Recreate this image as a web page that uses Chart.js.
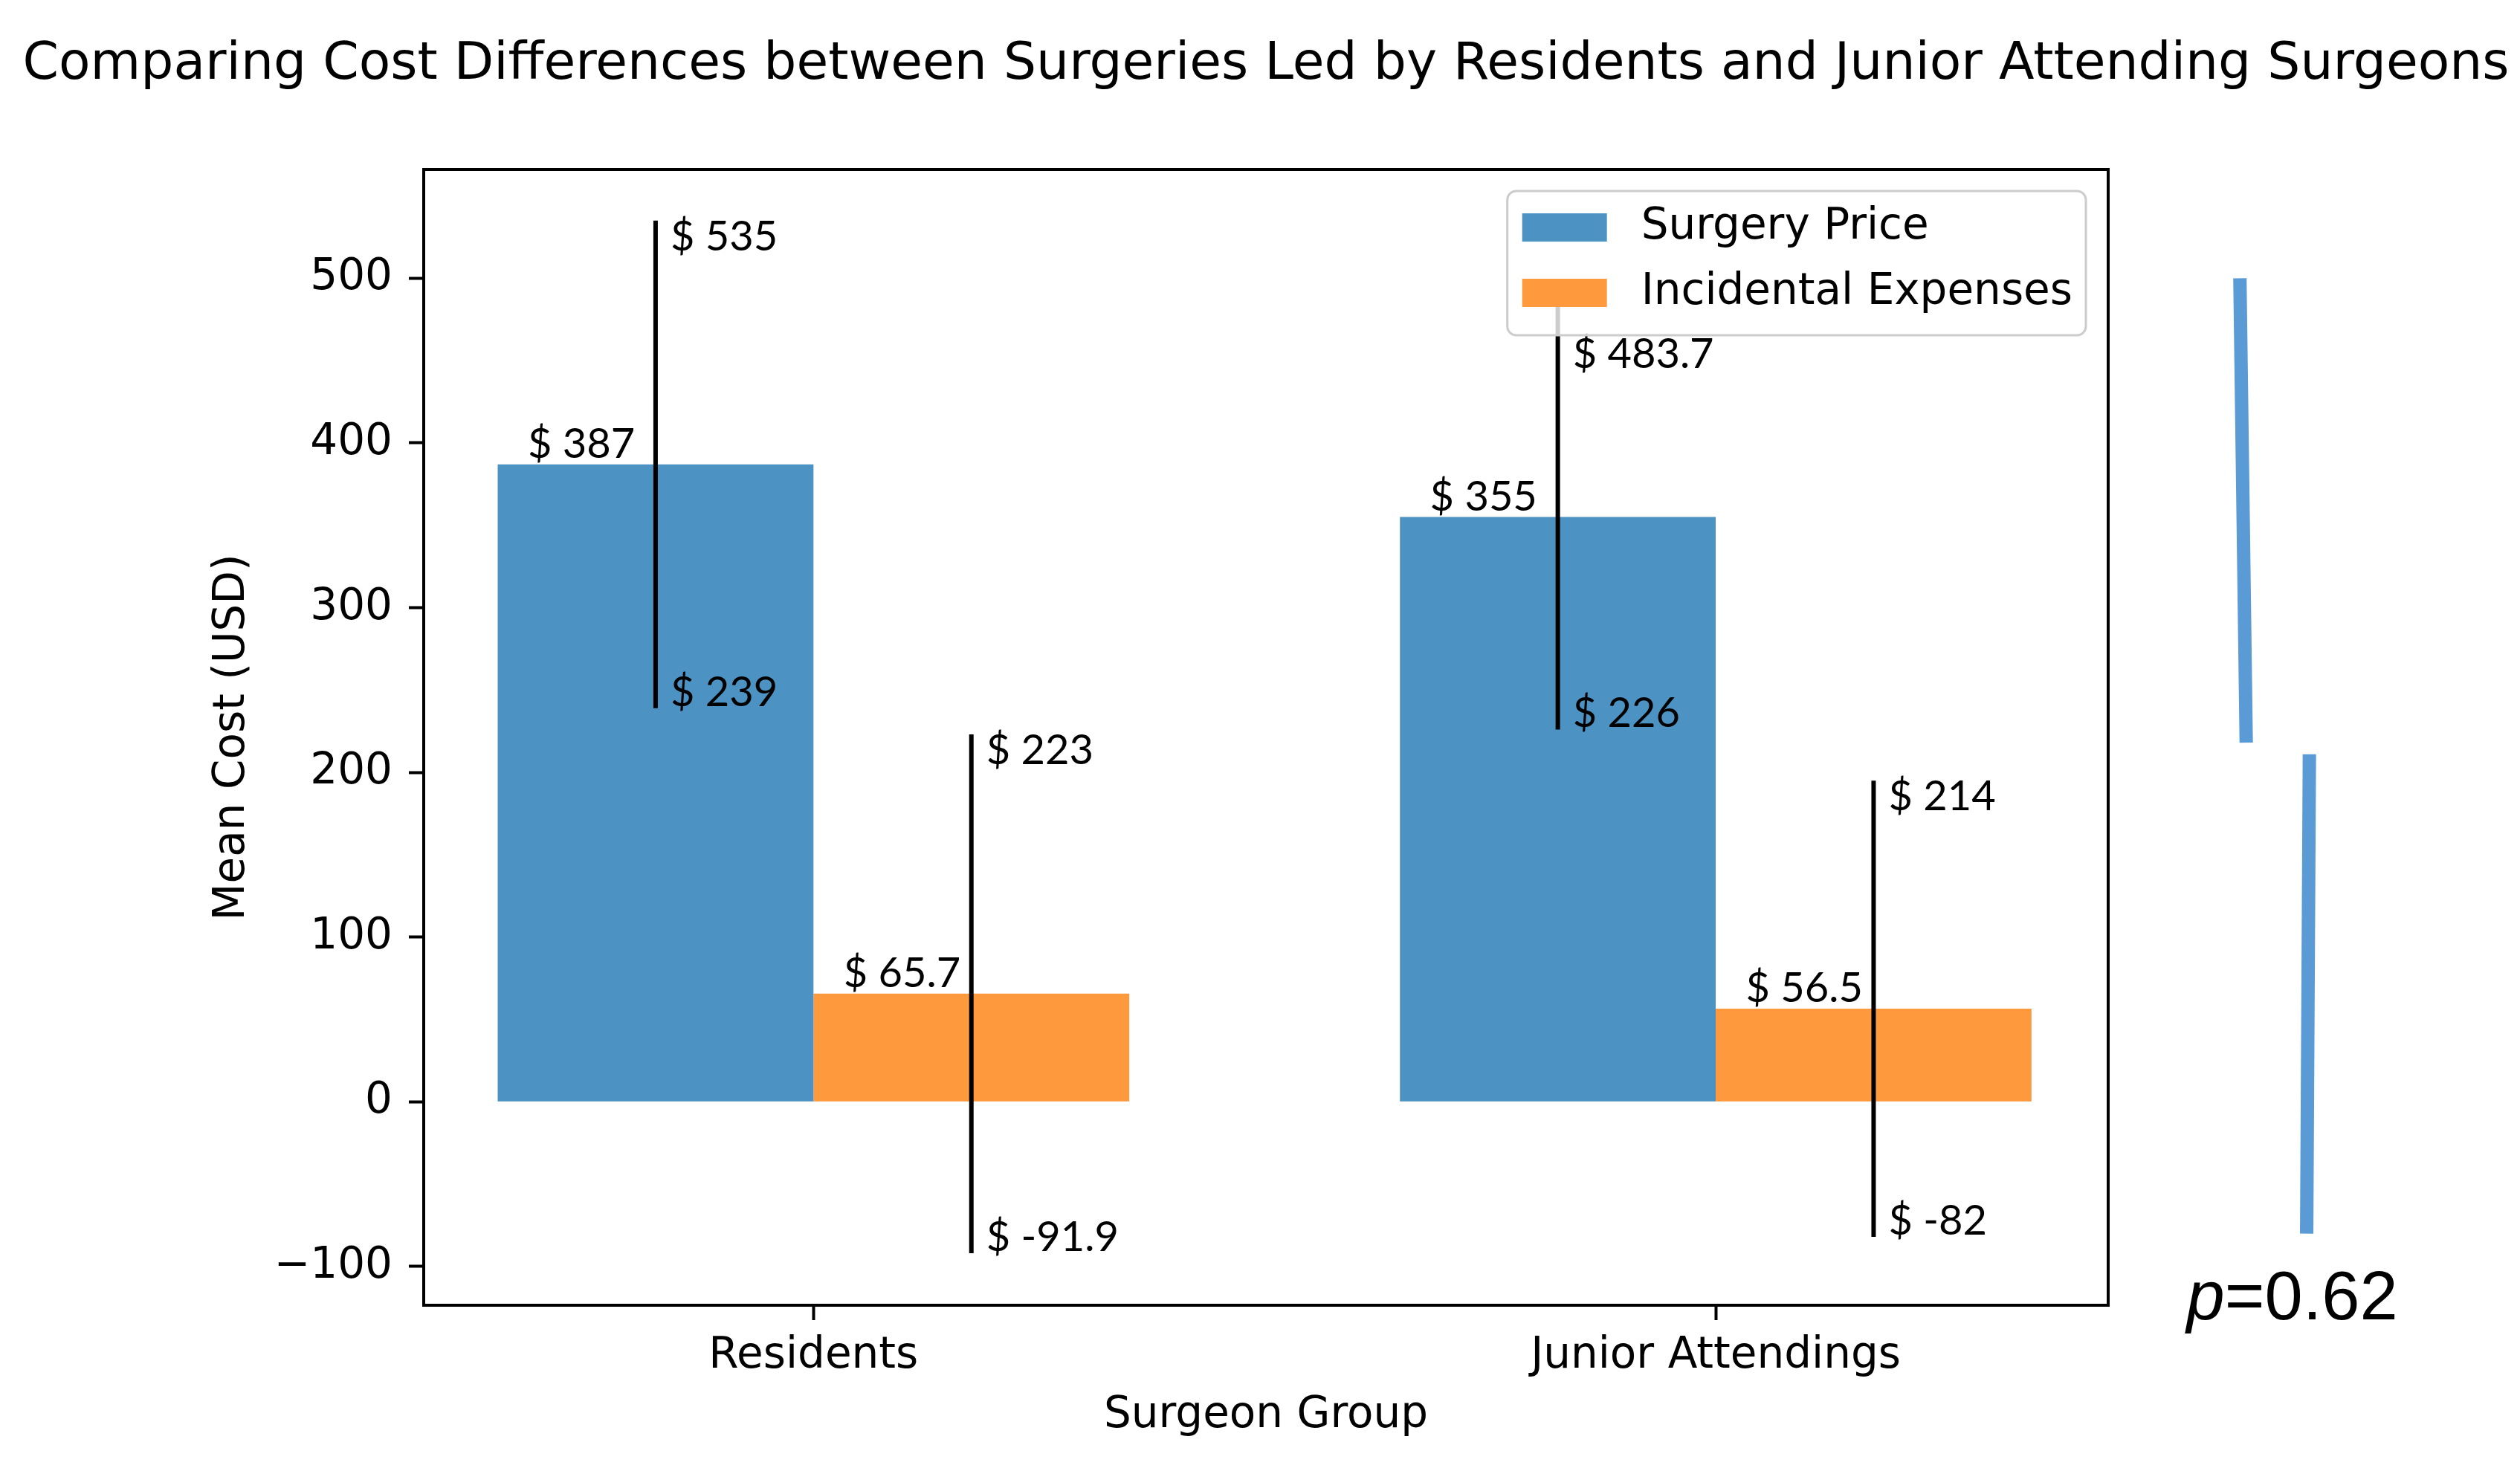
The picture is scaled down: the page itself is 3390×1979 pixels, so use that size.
<!DOCTYPE html>
<html>
<head>
<meta charset="utf-8">
<script src="https://cdn.jsdelivr.net/npm/chart.js@4/dist/chart.umd.min.js"></script>
<style>
  html, body { margin: 0; padding: 0; background: #fff; }
  canvas { display: block; }
</style>
</head>
<body>
<canvas id="chart" width="3390" height="1979"></canvas>
<script>
/* == DATA == */
const categories = ["Residents", "Junior Attendings"];
const surgeryPrice = [387, 355];
const incidentalExpenses = [65.7, 56.5];
// error bar ends, as drawn
const surgeryLow = [239, 226];
const surgeryHigh = [535, 483.7];
const incidentalLow = [-91.9, -82];
const incidentalHigh = [223, 195];
// texts written next to the error bar ends
const surgeryLowText = ["239", "226"];
const surgeryHighText = ["535", "483.7"];
const incidentalLowText = ["-91.9", "-82"];
const incidentalHighText = ["223", "214"];
const yTicks = [-100, 0, 100, 200, 300, 400, 500];
const pValueText = "0.62";

const TITLE = "Comparing Cost Differences between Surgeries Led by Residents and Junior Attending Surgeons";
const AXIS_FONT = "DejaVu Sans";
const NOTE_FONT = "Lato";
const BLUE = "rgb(76, 146, 195)";
const ORANGE = "rgb(255, 153, 62)";
const BRACKET = "#5b9bd5";

const toPoints = (arr) => arr.map((v, i) => ({ x: i, y: v }));

/* == drawing of everything matplotlib / powerpoint added on top == */
const extras = {
  id: "extras",
  afterDraw(chart) {
    const { ctx, chartArea: area, scales } = chart;
    const xs = scales.x, ys = scales.y;
    ctx.save();

    // legend box geometry first, labels need it
    ctx.font = `58px "${AXIS_FONT}"`;
    const labels = chart.data.datasets.map((d) => d.label);
    const textW = Math.max(...labels.map((t) => ctx.measureText(t).width));
    const boxW = 20 + 114 + 46 + textW + 18;
    const boxH = 194;
    const boxR = area.right - 30;
    const boxL = boxR - boxW;
    const boxT = area.top + 29;
    const boxB = boxT + boxH;

    // error bars
    chart.data.datasets.forEach((ds, di) => {
      const meta = chart.getDatasetMeta(di);
      meta.data.forEach((bar, i) => {
        const yHi = ys.getPixelForValue(ds.errHigh[i]);
        const yLo = ys.getPixelForValue(ds.errLow[i]);
        ctx.strokeStyle = "#000";
        ctx.lineWidth = 6;
        ctx.beginPath();
        ctx.moveTo(bar.x, yHi);
        ctx.lineTo(bar.x, yLo);
        ctx.stroke();
      });
    });

    // value labels
    ctx.fillStyle = "#000";
    ctx.font = `56px "${NOTE_FONT}"`;
    ctx.textAlign = "left";
    ctx.textBaseline = "alphabetic";
    chart.data.datasets.forEach((ds, di) => {
      const meta = chart.getDatasetMeta(di);
      meta.data.forEach((bar, i) => {
        const left = bar.x - bar.width / 2;
        ctx.fillText("$ " + ds.data[i].y, left + bar.width * 0.095, bar.y - 9);
        const tx = bar.x + 20;
        let hiTop = ys.getPixelForValue(ds.errHigh[i]);
        if (tx < boxR && tx + 160 > boxL && hiTop < boxB + 4) hiTop = boxB + 4;
        ctx.fillText("$ " + ds.highText[i], tx, hiTop + 40);
        ctx.fillText("$ " + ds.lowText[i], tx, ys.getPixelForValue(ds.errLow[i]) - 3);
      });
    });

    // legend
    ctx.fillStyle = "rgba(255,255,255,0.8)";
    ctx.strokeStyle = "rgb(204,204,204)";
    ctx.lineWidth = 3;
    ctx.beginPath();
    ctx.roundRect(boxL, boxT, boxW, boxH, 12);
    ctx.fill();
    ctx.stroke();
    ctx.font = `58px "${AXIS_FONT}"`;
    ctx.textBaseline = "middle";
    chart.data.datasets.forEach((ds, di) => {
      const cy = boxT + 49 + di * 88;
      ctx.fillStyle = ds.backgroundColor;
      ctx.fillRect(boxL + 20, cy - 19, 114, 38);
      ctx.fillStyle = "#000";
      ctx.fillText(ds.label, boxL + 20 + 114 + 46, cy);
    });

    // axes frame
    ctx.strokeStyle = "#000";
    ctx.lineWidth = 4;
    ctx.strokeRect(area.left, area.top, area.right - area.left, area.bottom - area.top);

    // title
    ctx.fillStyle = "#000";
    ctx.font = `69.5px "${AXIS_FONT}"`;
    ctx.textAlign = "center";
    ctx.textBaseline = "alphabetic";
    ctx.fillText(TITLE, (area.left + area.right) / 2, 106);

    // significance bracket outside the axes
    ctx.strokeStyle = BRACKET;
    ctx.lineWidth = 18;
    ctx.lineCap = "butt";
    [[1.581, 500, 1.588, 218], [1.658, 211, 1.655, -80]].forEach(([x0, y0, x1, y1]) => {
      ctx.beginPath();
      ctx.moveTo(xs.getPixelForValue(x0), ys.getPixelForValue(y0));
      ctx.lineTo(xs.getPixelForValue(x1), ys.getPixelForValue(y1));
      ctx.stroke();
    });
    ctx.fillStyle = "#000";
    ctx.textAlign = "left";
    const px = xs.getPixelForValue(1.522);
    const py = ys.getPixelForValue(-132);
    ctx.font = `italic 92px "Liberation Sans"`;
    ctx.fillText("p", px, py);
    const pw = ctx.measureText("p").width;
    ctx.font = `92px "Liberation Sans"`;
    ctx.fillText("=" + pValueText, px + pw, py);

    ctx.restore();
  },
};

const axisFont = { family: AXIS_FONT, size: 58 };

new Chart(document.getElementById("chart"), {
  type: "bar",
  data: {
    datasets: [
      {
        label: "Surgery Price",
        data: toPoints(surgeryPrice),
        backgroundColor: BLUE,
        errLow: surgeryLow,
        errHigh: surgeryHigh,
        lowText: surgeryLowText,
        highText: surgeryHighText,
      },
      {
        label: "Incidental Expenses",
        data: toPoints(incidentalExpenses),
        backgroundColor: ORANGE,
        errLow: incidentalLow,
        errHigh: incidentalHigh,
        lowText: incidentalLowText,
        highText: incidentalHighText,
      },
    ],
  },
  options: {
    responsive: false,
    devicePixelRatio: 1,
    animation: false,
    categoryPercentage: 0.7,
    barPercentage: 1.0,
    layout: { padding: { top: 228, right: 554, bottom: 0, left: 0 } },
    plugins: {
      legend: { display: false },
      tooltip: { enabled: false },
      title: { display: false },
    },
    scales: {
      x: {
        type: "linear",
        min: -0.432,
        max: 1.435,
        offset: false,
        afterBuildTicks: (s) => { s.ticks = categories.map((c, i) => ({ value: i })); },
        afterFit: (s) => { s.height = 223; },
        grid: { offset: false, drawOnChartArea: false, drawTicks: true, tickLength: 20, tickColor: "#000", tickWidth: 4 },
        border: { display: false },
        ticks: {
          font: axisFont,
          color: "#000",
          padding: 14,
          maxRotation: 0,
          autoSkip: false,
          callback: (v) => categories[v],
        },
        title: { display: true, text: "Surgeon Group", font: axisFont, color: "#000", padding: { top: 0, bottom: 39 } },
      },
      y: {
        min: -123.5,
        max: 566,
        afterBuildTicks: (s) => { s.ticks = yTicks.map((v) => ({ value: v })); },
        afterFit: (s) => { s.width = 570; },
        grid: { drawOnChartArea: false, drawTicks: true, tickLength: 20, tickColor: "#000", tickWidth: 4 },
        border: { display: false },
        ticks: {
          font: axisFont,
          color: "#000",
          padding: 22,
          callback: (v) => (v < 0 ? "\u2212" + Math.abs(v) : String(v)),
        },
        title: { display: true, text: "Mean Cost (USD)", font: axisFont, color: "#000", padding: { top: 278, bottom: 0 } },
      },
    },
  },
  plugins: [extras],
});
</script>
</body>
</html>
